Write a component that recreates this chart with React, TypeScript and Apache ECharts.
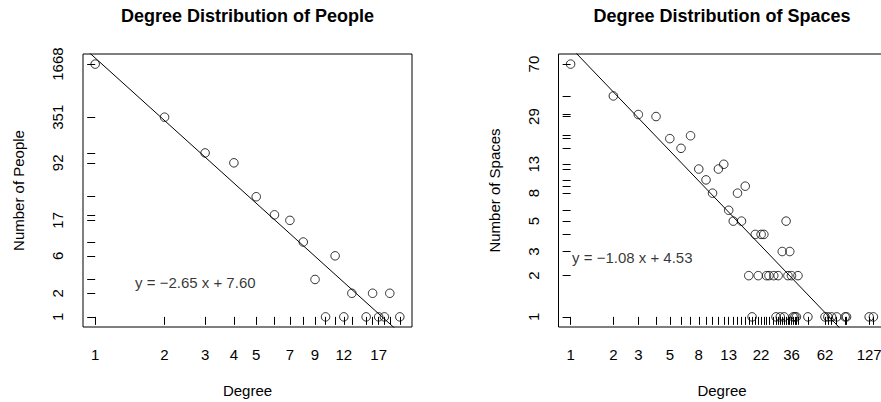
import React, { useEffect, useRef } from "react";
import * as echarts from "echarts";

// ---- People (left panel) ----
const peopleDegree = [1, 2, 3, 4, 5, 6, 7, 8, 9, 10, 11, 12, 13, 15, 16, 17, 18, 19, 21];
const peopleCount = [1668, 351, 123, 92, 34, 20, 17, 9, 3, 1, 6, 1, 2, 1, 2, 1, 1, 2, 1];
const peopleXLabels = [1, 2, 3, 4, 5, 7, 9, 12, 17];
const peopleYLabels = [1, 2, 6, 17, 92, 351, 1668];
const peopleSlope = -2.65;
const peopleIntercept = 7.6;
const peopleEquation = "y = \u22122.65 x + 7.60";

// ---- Spaces (right panel) ----
const spacesDegree = [
  1, 2, 3, 4, 5, 6, 7, 8, 9, 10, 11, 12, 13, 14, 15, 16, 17, 18, 19, 20, 21, 22, 23, 24, 25,
  27, 28, 29, 30, 31, 32, 33, 34, 35, 36, 37, 38, 39, 40, 47, 62, 65, 69, 75, 86, 88, 127, 136,
];
const spacesCount = [
  70, 41, 30, 29, 20, 17, 21, 12, 10, 8, 12, 13, 6, 5, 8, 5, 9, 2, 1, 4, 2, 4, 4, 2, 2,
  2, 1, 2, 1, 3, 1, 5, 2, 3, 2, 1, 1, 1, 2, 1, 1, 1, 1, 1, 1, 1, 1, 1,
];
const spacesXLabels = [1, 2, 3, 5, 8, 13, 22, 36, 62, 127];
const spacesYLabels = [1, 2, 3, 5, 8, 13, 29, 70];
const spacesSlope = -1.08;
const spacesIntercept = 4.53;
const spacesEquation = "y = \u22121.08 x + 4.53";

// where the equation text sits (data units)
const equationAt = [2.72, 2.72];

const FONT = "'Liberation Sans', Arial, Helvetica, sans-serif";

function logRange(vals: number[]): [number, number] {
  const l = vals.map(Math.log);
  const lo = Math.min(...l);
  const hi = Math.max(...l);
  const pad = (hi - lo) * 0.04;
  return [lo - pad, hi + pad];
}

function uniqLog(vals: number[]) {
  return Array.from(new Set(vals)).map(Math.log);
}

const fmt = (v: number) => String(Math.round(Math.exp(v)));

function makeAxes(
  idx: number,
  xs: number[],
  ys: number[],
  xLabels: number[],
  yLabels: number[],
  yName: string
) {
  const xr = logRange(xs);
  const yr = logRange(ys);
  const xAxis = {
    type: "value",
    gridIndex: idx,
    min: xr[0],
    max: xr[1],
    splitLine: { show: false },
    axisLine: { show: false },
    axisTick: {
      show: true,
      length: 8,
      customValues: uniqLog(xs),
      lineStyle: { color: "#000", width: 1 },
    },
    axisLabel: {
      customValues: xLabels.map(Math.log),
      formatter: fmt,
      color: "#000",
      fontSize: 15,
      fontFamily: FONT,
      margin: 20,
      hideOverlap: false,
    },
    name: "Degree",
    nameLocation: "middle",
    nameGap: 56,
    nameTextStyle: { color: "#000", fontSize: 15, fontFamily: FONT },
  };
  const yAxis = {
    type: "value",
    gridIndex: idx,
    min: yr[0],
    max: yr[1],
    splitLine: { show: false },
    axisLine: { show: false },
    axisTick: {
      show: true,
      length: 8,
      customValues: uniqLog(ys),
      lineStyle: { color: "#000", width: 1 },
    },
    axisLabel: {
      customValues: yLabels.map(Math.log),
      formatter: fmt,
      color: "#000",
      fontSize: 15,
      fontFamily: FONT,
      rotate: 90,
      margin: 18,
      hideOverlap: false,
    },
    name: yName,
    nameLocation: "middle",
    nameRotate: 90,
    nameGap: 57,
    nameTextStyle: { color: "#000", fontSize: 15, fontFamily: FONT },
  };
  return { xAxis, yAxis, xr };
}

function makeSeries(
  idx: number,
  xs: number[],
  ys: number[],
  slope: number,
  intercept: number,
  xr: [number, number],
  eq: string
) {
  return [
    {
      type: "scatter",
      xAxisIndex: idx,
      yAxisIndex: idx,
      symbol: "circle",
      symbolSize: 8.5,
      itemStyle: { color: "rgba(0,0,0,0)", borderColor: "#000", borderWidth: 1 },
      data: xs.map((x, i) => [Math.log(x), Math.log(ys[i])]),
      silent: true,
    },
    {
      type: "line",
      xAxisIndex: idx,
      yAxisIndex: idx,
      symbol: "none",
      clip: true,
      lineStyle: { color: "#000", width: 1 },
      data: [
        [xr[0], intercept + slope * xr[0]],
        [xr[1], intercept + slope * xr[1]],
      ],
      silent: true,
    },
    {
      type: "scatter",
      xAxisIndex: idx,
      yAxisIndex: idx,
      symbolSize: 0,
      data: [[Math.log(equationAt[0]), Math.log(equationAt[1])]],
      label: {
        show: true,
        position: "inside",
        formatter: eq,
        color: "#000",
        fontSize: 15,
        fontFamily: FONT,
      },
      silent: true,
    },
  ];
}

export default function App() {
  const ref = useRef<HTMLDivElement>(null);
  useEffect(() => {
    if (!ref.current) return;
    const chart = echarts.init(ref.current, undefined, { renderer: "svg" });
    const a = makeAxes(0, peopleDegree, peopleCount, peopleXLabels, peopleYLabels, "Number of People");
    const b = makeAxes(1, spacesDegree, spacesCount, spacesXLabels, spacesYLabels, "Number of Spaces");
    const option: any = {
      animation: false,
      backgroundColor: "#fff",
      textStyle: { fontFamily: FONT },
      title: [
        {
          text: "Degree Distribution of People",
          left: 247.5,
          top: 7,
          padding: 0,
          textAlign: "center",
          textStyle: { fontSize: 18, fontWeight: "bold", color: "#000", fontFamily: FONT },
        },
        {
          text: "Degree Distribution of Spaces",
          left: 722,
          top: 7,
          padding: 0,
          textAlign: "center",
          textStyle: { fontSize: 18, fontWeight: "bold", color: "#000", fontFamily: FONT },
        },
      ],
      grid: [
        {
          left: 83,
          top: 54,
          width: 329,
          height: 273,
          show: true,
          borderColor: "#000",
          borderWidth: 1,
          backgroundColor: "transparent",
          containLabel: false,
          outerBoundsMode: "none",
        },
        {
          left: 558.5,
          top: 54,
          width: 327,
          height: 273,
          show: true,
          borderColor: "#000",
          borderWidth: 1,
          backgroundColor: "transparent",
          containLabel: false,
          outerBoundsMode: "none",
        },
      ],
      xAxis: [a.xAxis, b.xAxis],
      yAxis: [a.yAxis, b.yAxis],
      series: [
        ...makeSeries(0, peopleDegree, peopleCount, peopleSlope, peopleIntercept, a.xr, peopleEquation),
        ...makeSeries(1, spacesDegree, spacesCount, spacesSlope, spacesIntercept, b.xr, spacesEquation),
      ],
    };
    chart.setOption(option);
    return () => chart.dispose();
  }, []);
  return (
    <div
      ref={ref}
      style={{ position: "fixed", left: 0, top: 0, width: 881, height: 402, background: "#fff" }}
    />
  );
}
